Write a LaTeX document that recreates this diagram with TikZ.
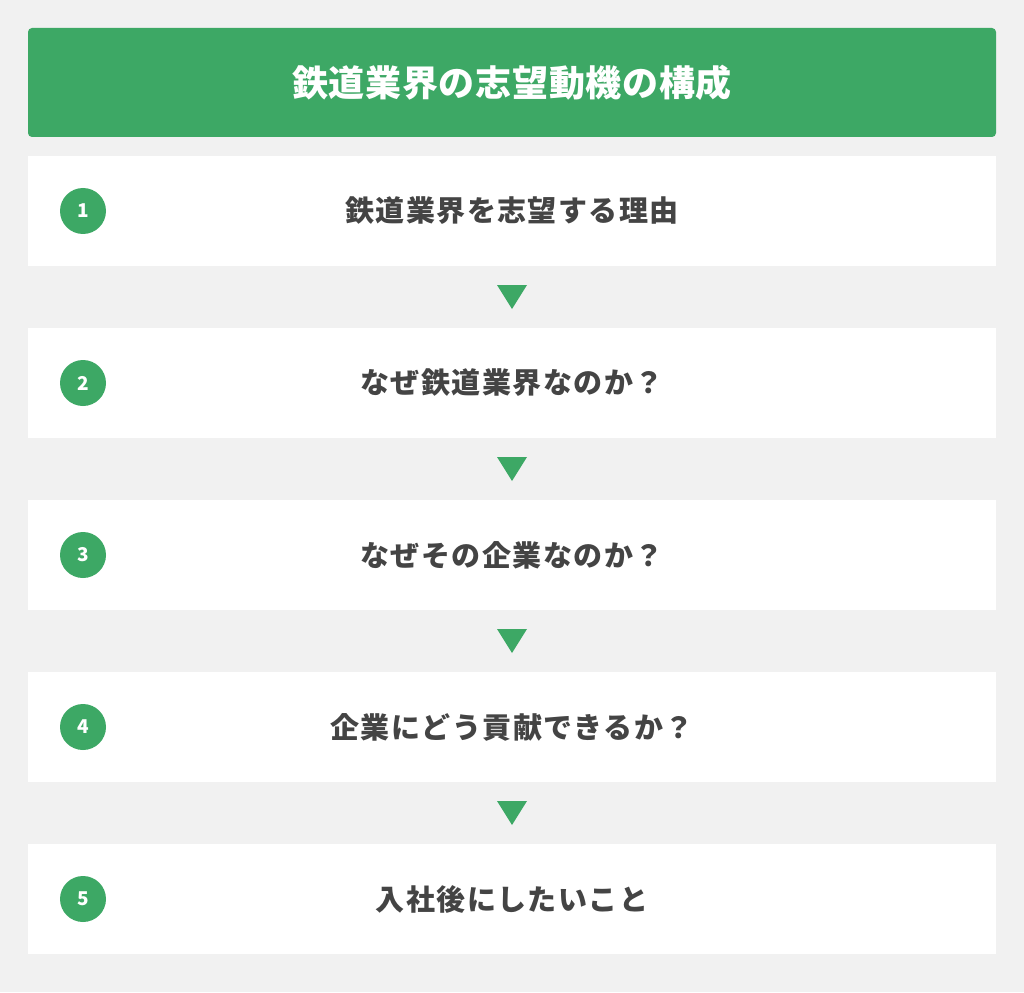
\documentclass[tikz,border=0pt]{standalone}
\usepackage{fontspec}
\setmainfont{Noto Sans CJK JP}
\newfontfamily\stepfont[LetterSpace=5]{Noto Sans CJK JP}
\newfontfamily\headfont[LetterSpace=2]{Noto Sans CJK JP}
\usetikzlibrary{calc}
\definecolor{railgreen}{HTML}{3DA865}
\definecolor{pagegray}{HTML}{F1F1F1}
\definecolor{steptext}{HTML}{444444}
\begin{document}
\begin{tikzpicture}[x=1pt,y=-1pt,
	stepbox/.style={fill=white,minimum width=968pt,minimum height=110pt,inner sep=0pt,text=steptext,font=\stepfont\fontsize{29}{31}\selectfont\bfseries},
	stepnum/.style={circle,fill=railgreen,minimum size=46pt,inner sep=0pt,text=white,font=\fontsize{19}{20}\selectfont\bfseries}]
	\useasboundingbox (0,0) rectangle (1024,992);
	\fill[pagegray] (0,0) rectangle (1024,992);
	\node[fill=railgreen,rounded corners=4pt,minimum width=968pt,minimum height=109pt,inner sep=0pt,text=white,font=\headfont\fontsize{36}{38}\selectfont\bfseries] (head) at (512,82.5) {鉄道業界の志望動機の構成};
	\foreach \i/\txt in {1/鉄道業界を志望する理由,2/なぜ鉄道業界なのか？,3/なぜその企業なのか？,4/企業にどう貢献できるか？,5/入社後にしたいこと}{
		\node[stepbox] (box\i) at (512,{211+172*(\i-1)}) {\txt};
		\node[stepnum] (num\i) at (83,{211+172*(\i-1)}) {\i};
	}
	\foreach \i [evaluate=\i as \j using int(\i+1)] in {1,...,4}
		\fill[railgreen] ($(box\i.south)!0.5!(box\j.north)+(-15,-12)$) -- ++(30,0) -- ++(-15,24) -- cycle;
\end{tikzpicture}
\end{document}
